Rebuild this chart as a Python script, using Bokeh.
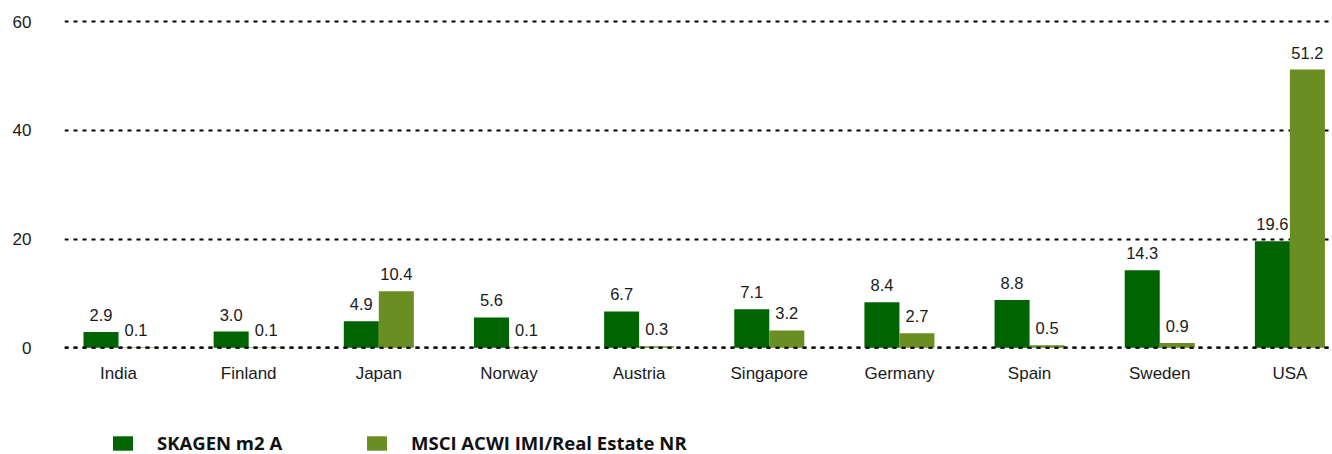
from bokeh.plotting import figure
from bokeh.models import ColumnDataSource, FixedTicker, Legend, LegendItem, Span, Range1d
from bokeh.core.properties import value
from bokeh.layouts import column
from bokeh.embed import file_html
from bokeh.resources import INLINE

countries = ["India", "Finland", "Japan", "Norway", "Austria", "Singapore", "Germany", "Spain", "Sweden", "USA"]
skagen = [2.9, 3.0, 4.9, 5.6, 6.7, 7.1, 8.4, 8.8, 14.3, 19.6]
msci = [0.1, 0.1, 10.4, 0.1, 0.3, 3.2, 2.7, 0.5, 0.9, 51.2]
series_names = ["SKAGEN m2 A", "MSCI ACWI IMI/Real Estate NR"]
y_ticks = [0, 20, 40, 60]

DARK = "#006400"
LIGHT = "#6B8E23"
FONT = "Liberation Sans"
TXT = "#1a1a1a"

idx = list(range(len(countries)))
bw = 0.269
src = ColumnDataSource(dict(
    x=idx, x1=[i - bw / 2 for i in idx], x2=[i + bw / 2 for i in idx],
    s=skagen, m=msci,
    sl=[f"{v:.1f}" for v in skagen], ml=[f"{v:.1f}" for v in msci],
))

p = figure(width=1332, height=420, output_backend="svg", toolbar_location=None,
           x_range=Range1d(-0.415, 9.312), y_range=Range1d(-0.3, 60.4),
           min_border_left=64, min_border_right=2, min_border_top=19, min_border_bottom=71)
p.outline_line_color = None
p.background_fill_color = "white"

p.xgrid.grid_line_color = None
p.ygrid.ticker = FixedTicker(ticks=y_ticks)
p.ygrid.grid_line_color = "black"
p.ygrid.grid_line_dash = "4 5"
p.ygrid.grid_line_width = 2

r1 = p.vbar(x="x1", top="s", width=bw, source=src, fill_color=DARK, line_color=None)
r2 = p.vbar(x="x2", top="m", width=bw, source=src, fill_color=LIGHT, line_color=None)
p.add_layout(Span(location=0, dimension="width", line_color="black", line_dash="4 5", line_width=2))

p.text(x="x1", y="s", text="sl", source=src, text_align="center", text_baseline="alphabetic",
       y_offset=-17, text_font_size="16.5px", text_color=TXT, text_font=value(FONT))
p.text(x="x2", y="m", text="ml", source=src, text_align="center", text_baseline="alphabetic",
       y_offset=-17, text_font_size="16.5px", text_color=TXT, text_font=value(FONT))

p.yaxis.ticker = FixedTicker(ticks=y_ticks)
p.xaxis.ticker = FixedTicker(ticks=idx)
p.xaxis.major_label_overrides = {i: c for i, c in enumerate(countries)}
for ax in (p.xaxis, p.yaxis):
    ax.axis_line_color = None
    ax.major_tick_line_color = None
    ax.minor_tick_line_color = None
    ax.major_label_text_font = FONT
    ax.major_label_text_font_size = "17px"
    ax.major_label_text_color = TXT
p.yaxis.major_label_standoff = 27
p.xaxis.major_label_standoff = 8

# legend strip below the chart (its frame is aligned with the chart frame, x starts at 64)
lg = figure(width=1332, height=34, output_backend="svg", toolbar_location=None,
            x_range=Range1d(0, 1), y_range=Range1d(0, 1), x_axis_type=None, y_axis_type=None,
            min_border=0, min_border_left=0, min_border_right=0, min_border_top=0, min_border_bottom=0)
lg.outline_line_color = None
lg.xgrid.grid_line_color = None
lg.ygrid.grid_line_color = None
d1 = lg.vbar(x=[-5], top=[-5], width=0.1, fill_color=DARK, line_color=None)
d2 = lg.vbar(x=[-5], top=[-5], width=0.1, fill_color=LIGHT, line_color=None)
for rend, name, xpos in ((d1, series_names[0], 46), (d2, series_names[1], 300)):
    leg = Legend(items=[LegendItem(label=name, renderers=[rend])], location=(xpos, -1),
                 margin=0, padding=0, glyph_width=25, glyph_height=18, label_standoff=22,
                 label_text_font="Open Sans", label_text_font_style="bold",
                 label_text_font_size="18.5px", label_text_color="#111111",
                 border_line_color=None, background_fill_alpha=0)
    lg.add_layout(leg)

layout = column(p, lg, spacing=0)
open("out.html", "w").write(file_html(layout, INLINE))
